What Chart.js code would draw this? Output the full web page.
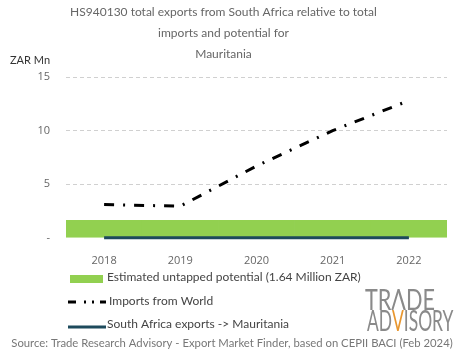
<!DOCTYPE html>
<html>
<head>
<meta charset="utf-8">
<script src="https://cdn.jsdelivr.net/npm/chart.js@4"></script>
<style>
  html, body { margin: 0; padding: 0; background: #fff; }
  #wrap { width: 465px; height: 359px; }
</style>
</head>
<body>
<div id="wrap"><canvas id="chart" width="465" height="359"></canvas></div>
<script>
const years = ['2018', '2019', '2020', '2021', '2022'];
const potential = [1.64, 1.64, 1.64, 1.64, 1.64];
const importsWorld = [3.1, 2.95, 6.7, 10.0, 12.8];
const saExports = [0, 0, 0, 0, 0];
const yTicks = [0, 5, 10, 15];
const titleLines = [
    'HS940130 total exports from South Africa relative to total',
    'imports and potential for',
    'Mauritania'
];
const labels = [
    'Estimated untapped potential (1.64 Million ZAR)',
    'Imports from World',
    'South Africa exports -> Mauritania'
];

const FONT = 'Lato, "Open Sans", sans-serif';

// draws text squeezed to a given width
function squeezeText(ctx, parts, x, y, width) {
    const full = parts.map(p => p[0]).join('');
    const k = width / ctx.measureText(full).width;
    ctx.save();
    ctx.translate(x, y);
    ctx.scale(k, 1);
    let cx = 0;
    parts.forEach(([t, c]) => {
        ctx.fillStyle = c;
        ctx.fillText(t, cx, 0);
        cx += ctx.measureText(t).width;
    });
    ctx.restore();
}

const extrasPlugin = {
    id: 'extras',
    afterDraw(chart) {
        const { ctx } = chart;
        ctx.save();

        // unit label
        ctx.font = '11px ' + FONT;
        ctx.fillStyle = '#333';
        ctx.textAlign = 'left';
        ctx.textBaseline = 'middle';
        ctx.fillText('ZAR Mn', 10, 60);

        // legend
        const ds = chart.data.datasets;
        ctx.font = '12px ' + FONT;
        ctx.fillStyle = ds[2].backgroundColor;
        ctx.fillRect(70, 275, 33, 8);
        ctx.fillStyle = '#444';
        ctx.fillText(ds[2].label, 107, 277);

        ctx.strokeStyle = ds[0].borderColor;
        ctx.lineWidth = 3;
        ctx.setLineDash([8, 8, 2, 6, 2, 6]);
        ctx.beginPath();
        ctx.moveTo(68, 302);
        ctx.lineTo(106, 302);
        ctx.stroke();
        ctx.setLineDash([]);
        ctx.fillText(ds[0].label, 109, 301);

        ctx.strokeStyle = ds[1].borderColor;
        ctx.beginPath();
        ctx.moveTo(68, 327);
        ctx.lineTo(106, 327);
        ctx.stroke();
        ctx.fillText(ds[1].label, 107, 324);

        // logo
        ctx.font = '28px ' + FONT;
        ctx.textBaseline = 'alphabetic';
        const grey = '#8a8a8a';
        squeezeText(ctx, [['TRΛDE', grey]], 365, 310, 70);
        squeezeText(ctx, [['AD', grey], ['V', '#e8962e'], ['ISORY', grey]], 367, 331, 86);

        // source
        ctx.font = '11.3px ' + FONT;
        ctx.fillStyle = '#777';
        ctx.textAlign = 'center';
        ctx.textBaseline = 'middle';
        ctx.fillText('Source: Trade Research Advisory - Export Market Finder, based on CEPII BACI (Feb 2024)', 232, 343);

        ctx.restore();
    }
};

new Chart(document.getElementById('chart'), {
    data: {
        labels: years,
        datasets: [
            {
                type: 'line',
                label: labels[1],
                data: importsWorld,
                borderColor: '#000',
                borderWidth: 3,
                borderDash: [10, 9, 2, 9],
                pointRadius: 0,
                tension: 0,
                fill: false,
                order: 1
            },
            {
                type: 'line',
                label: labels[2],
                data: saExports,
                borderColor: '#1d4a5c',
                borderWidth: 3,
                pointRadius: 0,
                fill: false,
                clip: false,
                order: 0
            },
            {
                type: 'bar',
                label: labels[0],
                data: potential,
                backgroundColor: '#92d050',
                barPercentage: 1,
                categoryPercentage: 1,
                order: 3
            }
        ]
    },
    options: {
        responsive: false,
        animation: false,
        layout: { padding: { left: 0, right: 18, top: 0, bottom: 84 } },
        plugins: {
            legend: { display: false },
            tooltip: { enabled: false },
            title: {
                display: true,
                text: titleLines,
                color: '#666',
                font: { family: FONT, size: 12, weight: 'normal', lineHeight: 1.75 },
                padding: { top: 2, bottom: 12 }
            }
        },
        scales: {
            x: {
                offset: true,
                grid: { display: false },
                border: { display: false },
                ticks: { color: '#666', font: { family: '"Open Sans", sans-serif', size: 11 }, padding: 8 }
            },
            y: {
                min: 0,
                max: 15,
                afterBuildTicks(scale) { scale.ticks = yTicks.map(v => ({ value: v })); },
                afterFit(scale) { scale.width = 66; },
                grid: {
                    color: ctx => ctx.tick && ctx.tick.value === 0 ? 'rgba(0,0,0,0)' : '#d0d0d0',
                    drawTicks: false
                },
                border: { display: false, dash: [4, 3] },
                ticks: {
                    color: '#666',
                    font: { family: '"Open Sans", sans-serif', size: 11 },
                    padding: 16,
                    callback: v => v === 0 ? '-' : v
                }
            }
        }
    },
    plugins: [extrasPlugin]
});
</script>
</body>
</html>
